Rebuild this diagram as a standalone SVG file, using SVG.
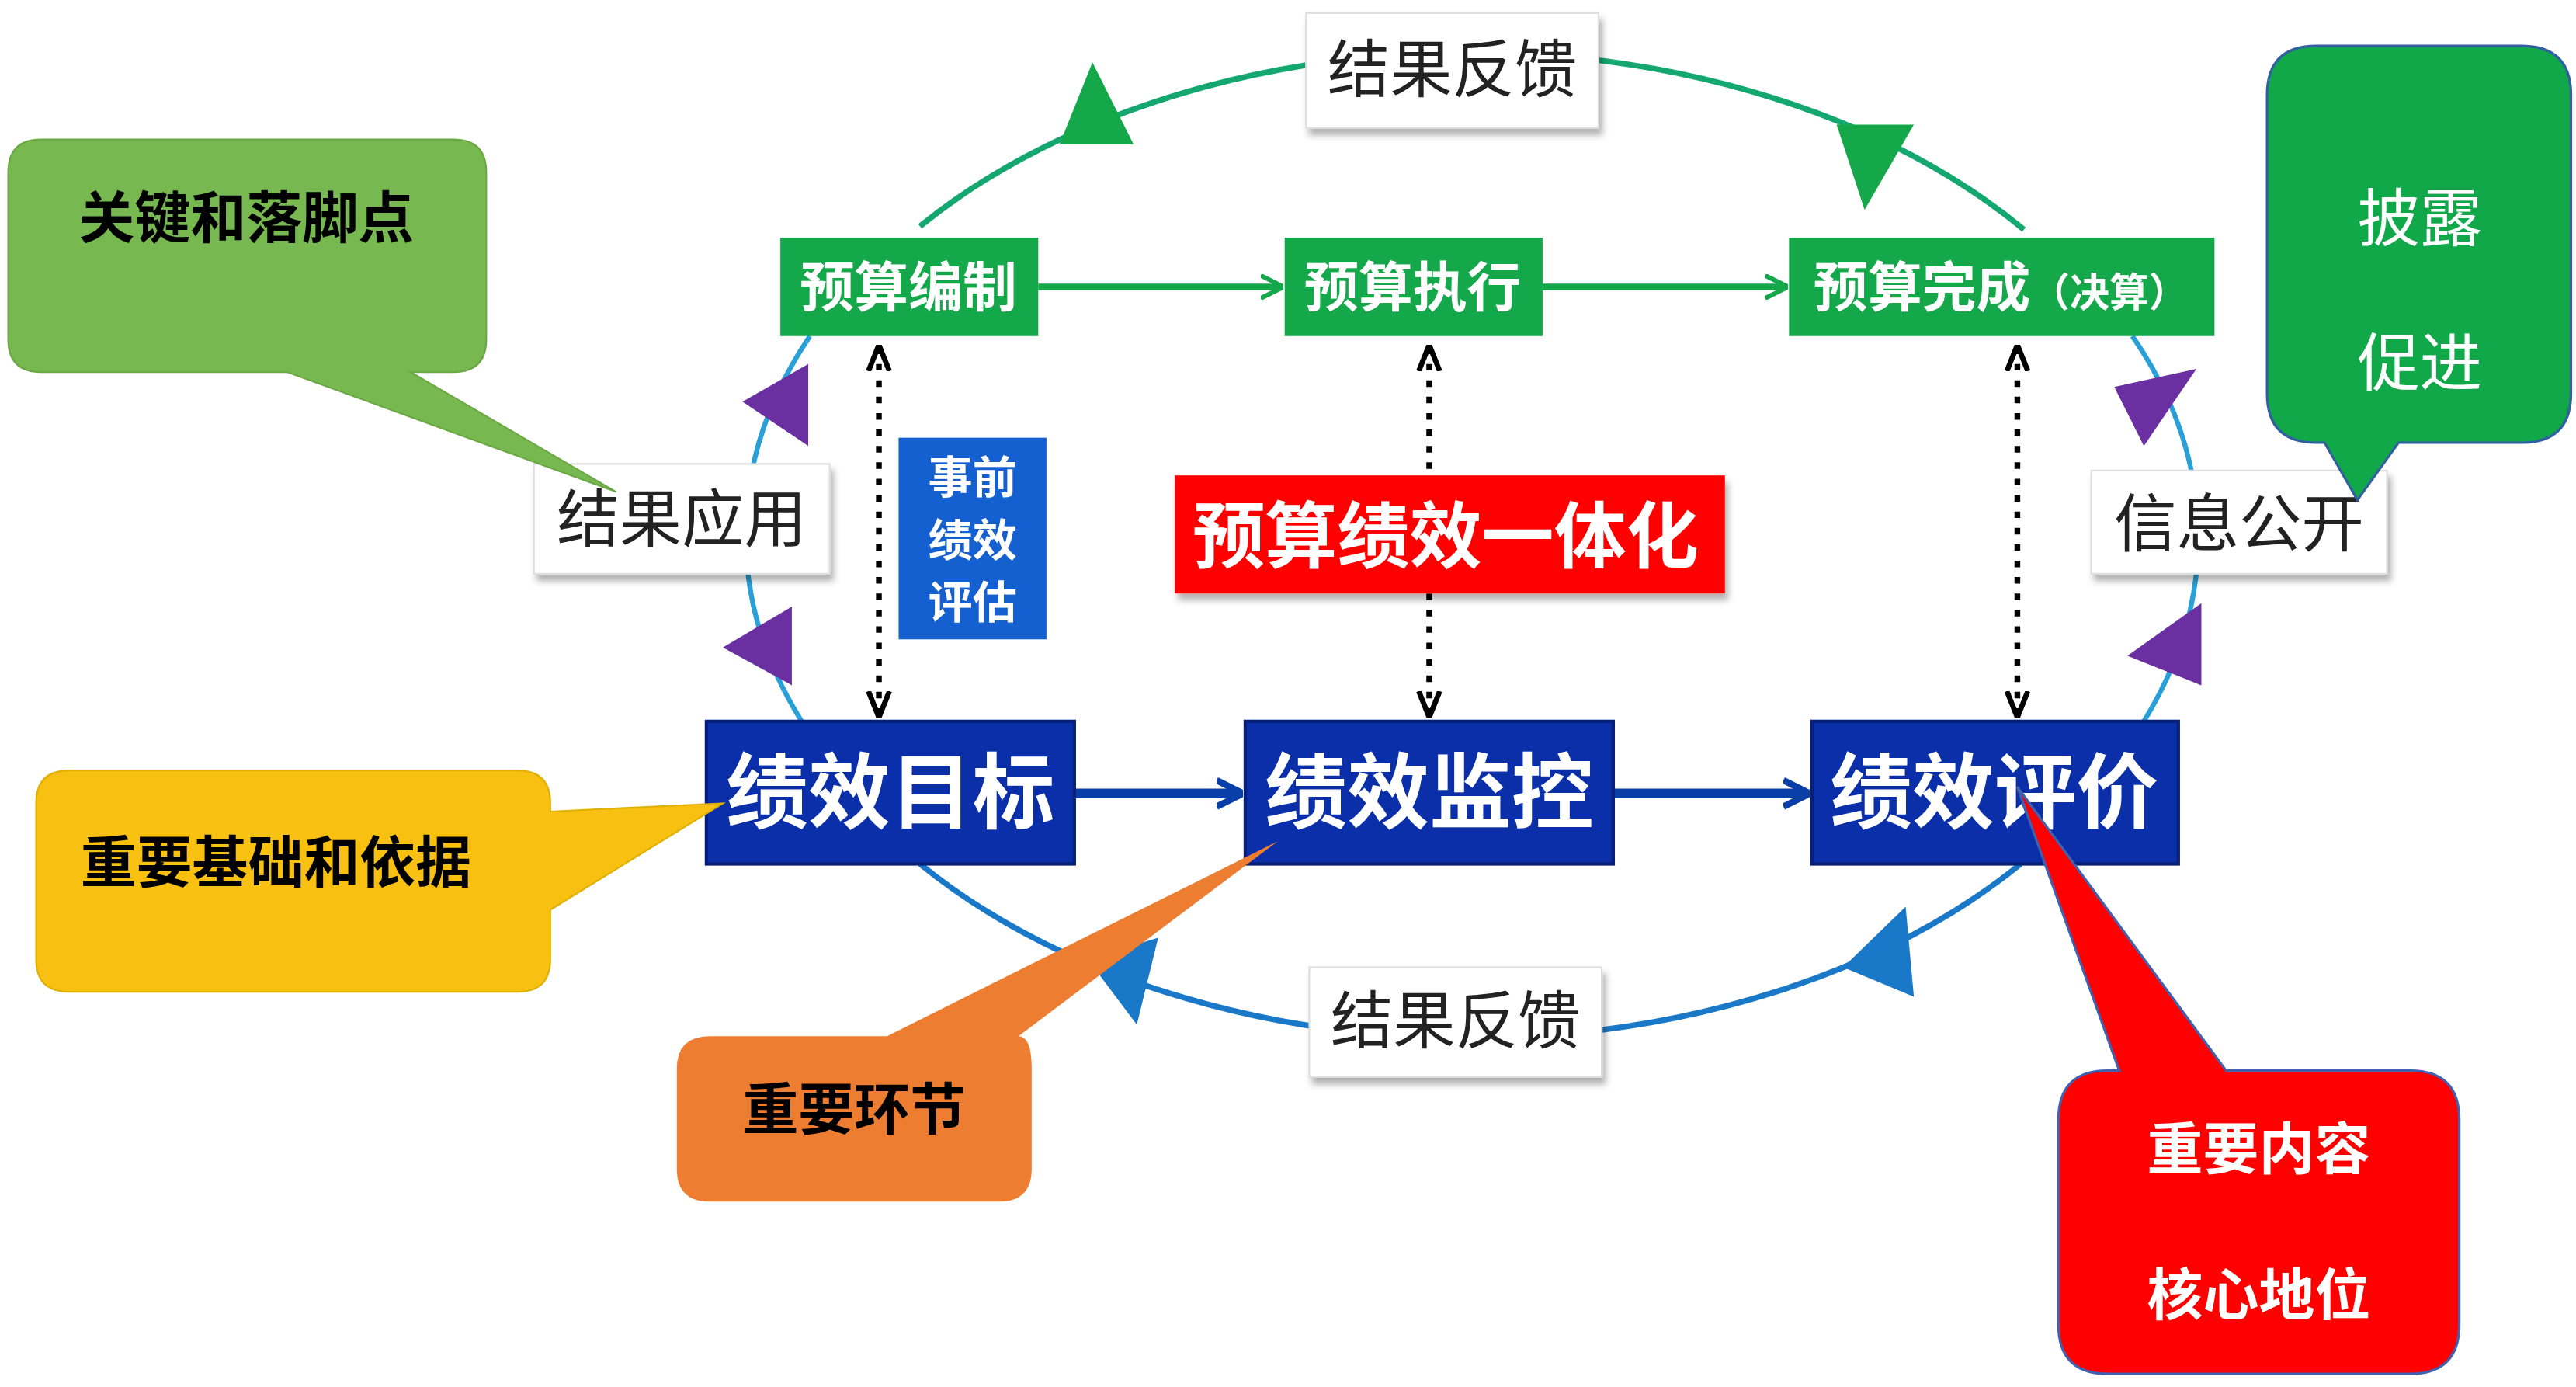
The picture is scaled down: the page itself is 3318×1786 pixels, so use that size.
<svg xmlns="http://www.w3.org/2000/svg" width="3318" height="1786" viewBox="0 0 3318 1786">
<style>
.cjk{font-family:"Noto Sans CJK SC","Liberation Sans",sans-serif}
.wb{fill:#fff;stroke:#ddd;stroke-width:1;filter:url(#sh)}
.wt{font-size:38px;fill:#222;text-anchor:middle}
.gb{fill:#14a84b}
.gt{font-size:33px;font-weight:bold;fill:#fff;text-anchor:middle}
.bb{fill:#0b2fa8;stroke:#06207a;stroke-width:2}
.bt{font-size:50px;font-weight:bold;fill:#fff;text-anchor:middle}
.ct{font-size:34px;font-weight:bold;text-anchor:middle}
</style>
<defs>
<filter id="sh" x="-10%" y="-10%" width="130%" height="140%"><feDropShadow dx="2" dy="4" stdDeviation="2" flood-color="#000" flood-opacity="0.3"/></filter>
<marker id="ga" viewBox="0 0 10 10" refX="9" refY="5" markerWidth="14" markerHeight="16" markerUnits="userSpaceOnUse" orient="auto"><path d="M0,0 L10,5 L0,10" fill="none" stroke="#14a84b" stroke-width="2"/></marker>
<marker id="ba" viewBox="0 0 10 10" refX="9" refY="5" markerWidth="16" markerHeight="22" markerUnits="userSpaceOnUse" orient="auto"><path d="M0,0 L10,5 L0,10" fill="none" stroke="#0b3fa8" stroke-width="2.5"/></marker>
<marker id="da" viewBox="0 0 10 10" refX="9" refY="5" markerWidth="16" markerHeight="16" markerUnits="userSpaceOnUse" orient="auto-start-reverse"><path d="M0,1 L10,5 L0,9" fill="none" stroke="#000" stroke-width="2"/></marker>
</defs>
<rect width="3318" height="1786" fill="#fff"/>
<g transform="scale(2.116 2.111)">
<g id="connectors">
<path d="M560,138 A435,293 0 0 1 1232,140" fill="none" stroke="#14a870" stroke-width="3.5"/>
<path d="M493,205 A435,293 0 0 0 488,440" fill="none" stroke="#2aa0d8" stroke-width="3"/>
<path d="M1298,205 A435,293 0 0 1 1305,440" fill="none" stroke="#2aa0d8" stroke-width="3"/>
<path d="M560,527 A435,293 0 0 0 1230,527" fill="none" stroke="#1a78c8" stroke-width="3.5"/>
<polygon points="665,38 690,88 645,88" fill="#14a84b"/>
<polygon points="1118,76 1165,76 1135,128" fill="#14a84b"/>
<polygon points="492,222 492,272 452,245" fill="#6a2fa0"/>
<polygon points="482,370 482,418 440,395" fill="#6a2fa0"/>
<polygon points="1287,236 1337,225 1305,272" fill="#6a2fa0"/>
<polygon points="1340,368 1340,418 1295,400" fill="#6a2fa0"/>
<polygon points="662,585 705,572 692,625" fill="#1a78c8"/>
<polygon points="1122,590 1165,608 1160,553" fill="#1a78c8"/>
<line x1="632" y1="175" x2="780" y2="175" stroke="#14a84b" stroke-width="4" marker-end="url(#ga)"/>
<line x1="939" y1="175" x2="1087" y2="175" stroke="#14a84b" stroke-width="4" marker-end="url(#ga)"/>
<line x1="654" y1="484" x2="755" y2="484" stroke="#0b3fa8" stroke-width="6" marker-end="url(#ba)"/>
<line x1="982" y1="484" x2="1100" y2="484" stroke="#0b3fa8" stroke-width="6" marker-end="url(#ba)"/>
<line x1="535" y1="212" x2="535" y2="436" stroke="#000" stroke-width="3.5" stroke-dasharray="4,6" marker-start="url(#da)" marker-end="url(#da)"/>
<line x1="870" y1="212" x2="870" y2="436" stroke="#000" stroke-width="3.5" stroke-dasharray="4,6" marker-start="url(#da)" marker-end="url(#da)"/>
<line x1="1228" y1="212" x2="1228" y2="436" stroke="#000" stroke-width="3.5" stroke-dasharray="4,6" marker-start="url(#da)" marker-end="url(#da)"/>
</g>
<g id="fb-top"><rect class="wb" x="795" y="8" width="178" height="70"/><text class="cjk wt" x="884" y="56">结果反馈</text></g>
<g id="fb-bottom"><rect class="wb" x="797" y="590" width="178" height="67"/><text class="cjk wt" x="886" y="636">结果反馈</text></g>
<g id="apply"><rect class="wb" x="325" y="283" width="180" height="67"/><text class="cjk wt" x="415" y="330">结果应用</text></g>
<g id="open"><rect class="wb" x="1273" y="287" width="180" height="63"/><text class="cjk wt" x="1363" y="333">信息公开</text></g>
<g id="bz"><rect class="gb" x="475" y="145" width="157" height="60"/><text class="cjk gt" x="553" y="187">预算编制</text></g>
<g id="zx"><rect class="gb" x="782" y="145" width="157" height="60"/><text class="cjk gt" x="860" y="187">预算执行</text></g>
<g id="wc"><rect class="gb" x="1089" y="145" width="259" height="60"/><text class="cjk gt" x="1218" y="187">预算完成<tspan font-size="24">（决算）</tspan></text></g>
<g id="mb"><rect class="bb" x="430" y="440" width="224" height="87"/><text class="cjk bt" x="542" y="501">绩效目标</text></g>
<g id="jk"><rect class="bb" x="758" y="440" width="224" height="87"/><text class="cjk bt" x="870" y="501">绩效监控</text></g>
<g id="pj"><rect class="bb" x="1103" y="440" width="223" height="87"/><text class="cjk bt" x="1214" y="501">绩效评价</text></g>
<g id="sq"><rect x="547" y="267" width="90" height="123" fill="#1560d0"/><text class="cjk" font-size="27" font-weight="bold" fill="#fff" text-anchor="middle"><tspan x="592" y="301">事前</tspan><tspan x="592" y="339">绩效</tspan><tspan x="592" y="377">评估</tspan></text></g>
<g id="yth"><rect x="715" y="290" width="335" height="72" fill="#f00" filter="url(#sh)"/><text class="cjk" x="880" y="343" font-size="44" font-weight="bold" fill="#fff" text-anchor="middle">预算绩效一体化</text></g>
<g id="c-green"><path d="M25,85 H276 Q296,85 296,105 V207 Q296,227 276,227 H250 L375,300 L175,227 H25 Q5,227 5,207 V105 Q5,85 25,85 Z" fill="#78b850" stroke="#6aa844"/><text class="cjk ct" x="150" y="145" fill="#000">关键和落脚点</text></g>
<g id="c-yellow"><path d="M42,470 H315 Q335,470 335,490 V495 L440,490 L335,555 V585 Q335,605 315,605 H42 Q22,605 22,585 V490 Q22,470 42,470 Z" fill="#f8c010" stroke="#e0b000"/><text class="cjk ct" x="168" y="538" fill="#000">重要基础和依据</text></g>
<g id="c-orange"><path d="M432,632 H540 L778,513 L620,632 Q628,632 628,652 V713 Q628,733 608,733 H432 Q412,733 412,713 V652 Q412,632 432,632 Z" fill="#ed7d31"/><text class="cjk ct" x="520" y="689" fill="#000">重要环节</text></g>
<g id="c-red"><path d="M1283,653 H1290 L1228,480 L1355,653 H1467 Q1497,653 1497,683 V808 Q1497,838 1467,838 H1283 Q1253,838 1253,808 V683 Q1253,653 1283,653 Z" fill="#f00" stroke="#4060b0" stroke-width="1.5"/><text class="cjk ct" x="1375" y="713" fill="#fff" font-size="30">重要内容</text><text class="cjk ct" x="1375" y="802" fill="#fff" font-size="30">核心地位</text></g>
<g id="c-dark"><path d="M1410,28 H1535 Q1565,28 1565,58 V240 Q1565,270 1535,270 H1460 L1435,305 L1415,270 H1410 Q1380,270 1380,240 V58 Q1380,28 1410,28 Z" fill="#10a848" stroke="#3060a0" stroke-width="1.5"/><text class="cjk" x="1473" y="147" font-size="38" fill="#fff" text-anchor="middle">披露</text><text class="cjk" x="1473" y="235" font-size="38" fill="#fff" text-anchor="middle">促进</text></g>
</g>
</svg>
